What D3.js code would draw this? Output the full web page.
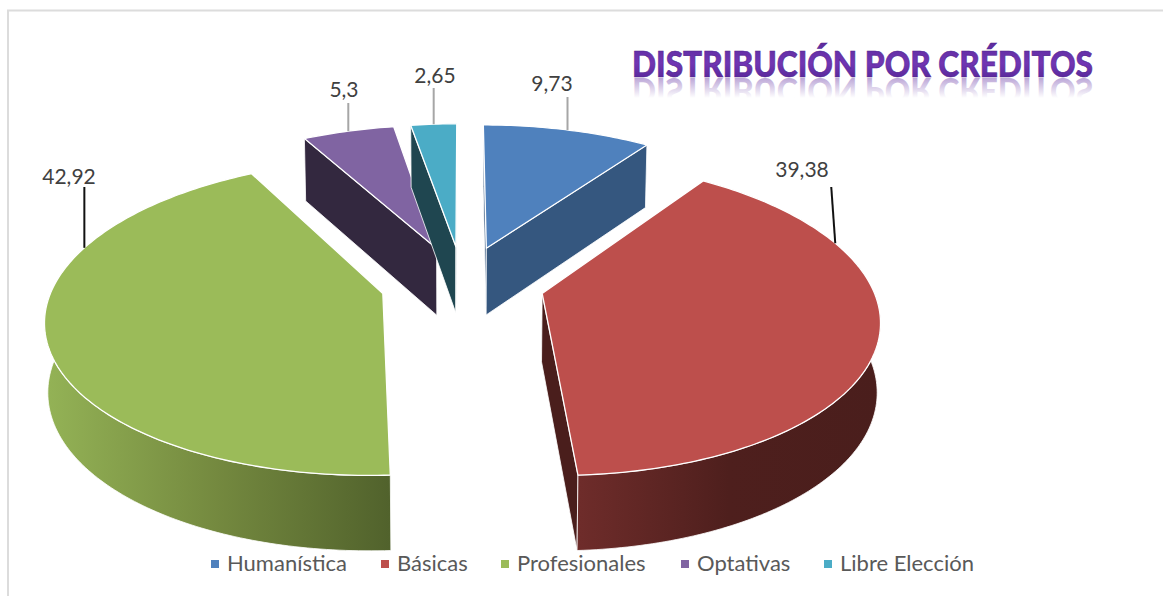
<!DOCTYPE html>
<html><head><meta charset="utf-8">
<script src="https://cdn.jsdelivr.net/npm/d3@7/dist/d3.min.js"></script>
<style>html,body{margin:0;padding:0;background:#fff;overflow:hidden}svg{display:block}</style>
</head><body><svg id="c" width="1163" height="596"></svg>
<script>
const categories=["Humanística","Básicas","Profesionales","Optativas","Libre Elección"];
const values=[9.73,39.38,42.92,5.3,2.65];
const valueLabels=["9,73","39,38","42,92","5,3","2,65"];
const topColors=["#4f81bd","#bd4f4c","#9bbb59","#8064a2","#4bacc6"];
const sideColors=["#35577f","#4a1e1c","#5a6e32","#33283f","#1f4650"];
const chartTitle="DISTRIBUCIÓN POR CRÉDITOS";

const svg=d3.select("#c");
const cx=462.5,yc=283,k=.46,D=2200,R=329,E=82;
const color=d3.scaleOrdinal(categories,topColors);
const side=d3.scaleOrdinal(categories,sideColors);
const line=d3.line().x(d=>d[0]).y(d=>d[1]);

function project(X,Y){const s=D/(D-Y);return [cx+X*s,yc+k*Y*s,s];}
function lower(p){return [cx+(p[0]-cx)*.992,p[1]+29+39*p[2]];}

const arcs=d3.pie().sort(null).value(d=>d.v)(categories.map((c,i)=>({c,v:values[i],i})));
arcs.forEach(a=>{a.mid=(a.startAngle+a.endAngle)/2;a.ox=E*Math.sin(a.mid);a.oy=-E*Math.cos(a.mid);
  a.apex=project(a.ox,a.oy);
  a.rim=t=>project(a.ox+R*Math.sin(t),a.oy-R*Math.cos(t));
  const n=Math.max(6,Math.ceil((a.endAngle-a.startAngle)*60));
  a.samples=d3.range(n+1).map(j=>a.startAngle+(a.endAngle-a.startAngle)*j/n);
});

const defs=svg.append("defs");
const wallGrad=[null,["#6e2c2a","#4e1f1d","#4a1e1c"],["#94b356","#74893f","#51622c"],null,null];
arcs.forEach(a=>{const g=wallGrad[a.data.i];if(!g)return;
  const x1=a.data.i==1?580:44,x2=a.data.i==1?878:390;
  const lg=defs.append("linearGradient").attr("id","w"+a.data.i).attr("gradientUnits","userSpaceOnUse")
    .attr("x1",x1).attr("x2",x2).attr("y1",0).attr("y2",0);
  g.forEach((col,j)=>lg.append("stop").attr("offset",j/2).attr("stop-color",col));
});
const tg=defs.append("linearGradient").attr("id","tg").attr("x1",0).attr("x2",0).attr("y1",0).attr("y2",1);
[["0","#5a2a9c"],[".5","#7236b4"],["1","#4f2390"]].forEach(s=>tg.append("stop").attr("offset",s[0]).attr("stop-color",s[1]));
const rg=defs.append("linearGradient").attr("id","rg").attr("gradientUnits","userSpaceOnUse").attr("x1",0).attr("x2",0).attr("y1",0).attr("y2",-20);
rg.append("stop").attr("offset",0).attr("stop-color","#5f2da0").attr("stop-opacity",.42);
rg.append("stop").attr("offset",1).attr("stop-color","#5f2da0").attr("stop-opacity",0);

// frame
svg.append("path").attr("d","M8 596V10.5H1163").attr("fill","none").attr("stroke","#dcdcdc").attr("stroke-width",2);

// pie
const order=[3,4,0,1,2];
order.forEach(i=>{const a=arcs[i];const g=svg.append("g");
  const s0=a.rim(a.startAngle),s1=a.rim(a.endAngle);
  const faces=[];
  if(s0[0]-a.apex[0]<0)faces.push(s0);
  if(s1[0]-a.apex[0]>0)faces.push(s1);
  faces.forEach(p=>g.append("path")
    .attr("d",line([a.apex,p,lower(p),lower(a.apex)])+"Z")
    .attr("fill",side(a.data.c)).attr("stroke","#fff").attr("stroke-width",.8));
  const top=a.samples.map(a.rim);
  const front=a.samples.filter(t=>Math.cos(t)<.2).map(a.rim);
  if(front.length>1)g.append("path").attr("d",line(front.concat(front.map(lower).reverse()))+"Z")
    .attr("fill",`url(#w${i})`).attr("stroke","#fff").attr("stroke-width",.8);
  g.append("path").attr("d",line([a.apex].concat(top))+"Z")
    .attr("fill",color(a.data.c)).attr("stroke","#fff").attr("stroke-width",1.3).attr("stroke-linejoin","round");
});

// data labels with leaders
const leaderAngle=[null,70,288,null,null];
const leaderTip=[97,187,187,103,88];
const leaderCol=["#a6a6a6","#111","#111","#a6a6a6","#a6a6a6"];
const labelPos=[[552,91],[802,177],[69,184],[344,97],[435,83]];
arcs.forEach((a,i)=>{
  const t=leaderAngle[i]==null?a.mid:leaderAngle[i]*Math.PI/180;
  const p=a.rim(t);
  const tipX=i==1?p[0]-4:p[0];
  svg.append("line").attr("x1",p[0]).attr("y1",p[1]).attr("x2",tipX).attr("y2",leaderTip[i])
    .attr("stroke",leaderCol[i]).attr("stroke-width",2);
  svg.append("text").attr("x",labelPos[i][0]).attr("y",labelPos[i][1]).attr("text-anchor","middle")
    .attr("font-family","Lato").attr("font-size",21).attr("fill","#404040").text(valueLabels[i]);
});

// title with reflection
svg.append("text").attr("transform","translate(632,78) scale(1,-1)")
  .attr("font-family","Lato").attr("font-weight",900).attr("font-size",36).attr("textLength",461).attr("lengthAdjust","spacingAndGlyphs")
  .attr("fill","url(#rg)").text(chartTitle);
svg.append("text").attr("x",632).attr("y",77)
  .attr("font-family","Lato").attr("font-weight",900).attr("font-size",36).attr("textLength",461).attr("lengthAdjust","spacingAndGlyphs")
  .attr("fill","url(#tg)").attr("stroke","#4f2390").attr("stroke-width",.6).text(chartTitle);

// legend
const legendX=[211,381,501,681,824];
categories.forEach((c,i)=>{
  svg.append("rect").attr("x",legendX[i]).attr("y",560).attr("width",8).attr("height",8).attr("fill",color(c));
  svg.append("text").attr("x",legendX[i]+16).attr("y",571).attr("font-family","Lato").attr("font-size",22)
    .attr("fill","#595959").text(c);
});
</script></body></html>
